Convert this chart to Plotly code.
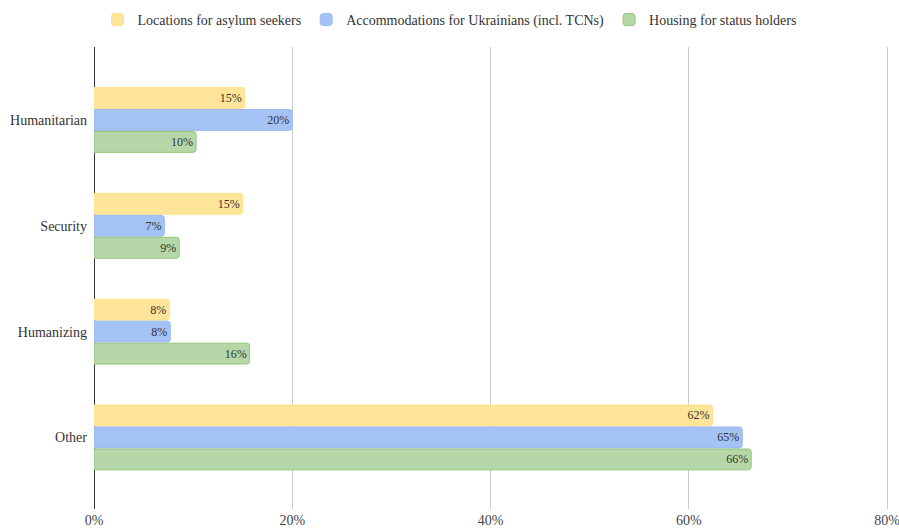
import plotly.graph_objects as go

categories = ["Humanitarian", "Security", "Humanizing", "Other"]
series_names = [
    "Locations for asylum seekers",
    "Accommodations for Ukrainians (incl. TCNs)",
    "Housing for status holders",
]
asylum = [15.2, 15.0, 7.6, 62.4]
ukrainians = [20.0, 7.1, 7.7, 65.4]
status_holders = [10.3, 8.6, 15.7, 66.3]
asylum_labels = ["15%", "15%", "8%", "62%"]
ukrainians_labels = ["20%", "7%", "8%", "65%"]
status_labels = ["10%", "9%", "16%", "66%"]
x_ticks = [0, 20, 40, 60, 80]

fill_colors = ["#FFE599", "#A4C2F4", "#B6D7A8"]
line_colors = ["#FFE08A", "#9BBBF0", "#93C47D"]

FONT = "Liberation Serif"

fig = go.Figure()
for name, vals, labels, fc, lc in zip(
        series_names, [asylum, ukrainians, status_holders],
        [asylum_labels, ukrainians_labels, status_labels], fill_colors, line_colors):
    fig.add_trace(go.Bar(
        y=categories, x=vals, name=name, orientation="h",
        marker=dict(color=fc, line=dict(color=lc, width=1)),
        text=labels,
        textposition="inside", insidetextanchor="end",
        textfont=dict(family=FONT, size=12, color="#333333"),
        hoverinfo="skip",
    ))

fig.update_layout(
    width=899, height=529,
    margin=dict(l=94, r=9, t=47, b=20),
    paper_bgcolor="white", plot_bgcolor="white",
    barmode="group", bargap=0.377, bargroupgap=0.05,
    barcornerradius=3,
    font=dict(family=FONT, size=13, color="#444444"),
    legend=dict(
        orientation="h", xref="container", yref="container",
        x=0.5, xanchor="center", y=1 - 20 / 529, yanchor="middle",
        font=dict(family=FONT, size=14, color="#333333"),
        itemwidth=30, traceorder="normal",
    ),
    xaxis=dict(
        range=[0, 80.3], tickvals=x_ticks, ticktext=[f"{t}%" for t in x_ticks],
        showgrid=True, gridcolor="#CCCCCC", gridwidth=1,
        zeroline=True, zerolinecolor="#333333", zerolinewidth=1,
        showline=False, ticks="", automargin=False, ticklabelstandoff=1,
        ticklabeloverflow="allow",
        tickfont=dict(family=FONT, size=14, color="#444444"),
    ),
    yaxis=dict(
        categoryorder="array", categoryarray=categories,
        range=[3.676, -0.689], showgrid=False, zeroline=False,
        ticks="", automargin=False, ticklabelstandoff=6,
        tickfont=dict(family=FONT, size=14, color="#333333"),
    ),
)

fig.write_html("out.html")
